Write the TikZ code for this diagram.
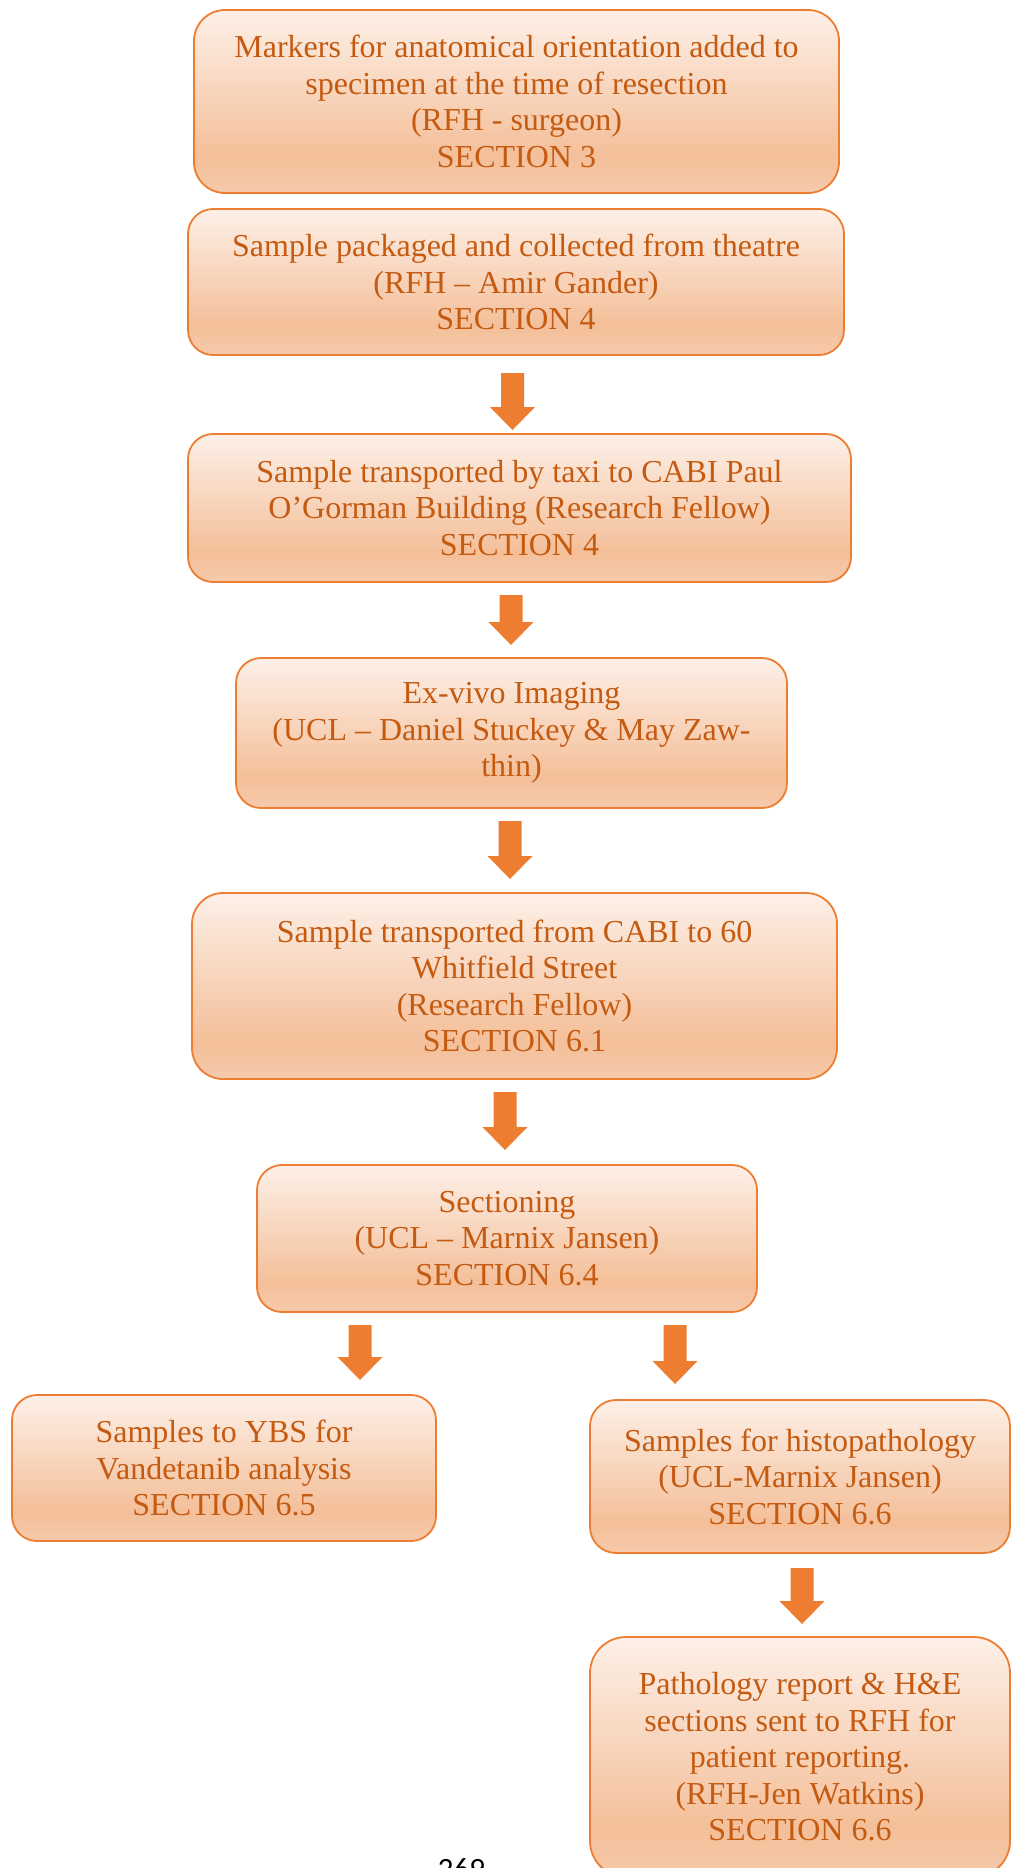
\documentclass[tikz,border=0pt]{standalone}
\usepackage{fontspec}
\setmainfont{Liberation Serif}
\newfontfamily\pagenumfont{Carlito}
\usetikzlibrary{calc}

\definecolor{boxline}{HTML}{ED7D31}
\definecolor{boxtext}{HTML}{C55A11}
\definecolor{shT}{HTML}{FDF0E8}
\definecolor{shM}{HTML}{F4BF99}
\definecolor{shB}{HTML}{F6CAAB}
\definecolor{arrowfill}{HTML}{ED7D31}

% light-to-orange vertical gradient used inside every step box
\pgfdeclareverticalshading{boxshade}{100bp}{%
  color(0bp)=(shB); color(25bp)=(shB); color(35bp)=(shM);
  color(75bp)=(shT); color(100bp)=(shT)}

% block arrow pointing down from coordinate #1 to its tip at coordinate #2
\newcommand\blockarrow[2]{%
  \fill[arrowfill]
    ($(#1)+(-11.5,0)$) -- ($(#1)+(11.5,0)$) -- ($(#2)+(11.5,-23)$)
    -- ($(#2)+(22.5,-23)$) -- (#2) -- ($(#2)+(-22.5,-23)$)
    -- ($(#2)+(-11.5,-23)$) -- cycle;}

\tikzset{
  stepbox/.style={draw=boxline, line width=1.8pt, shading=boxshade,
    text=boxtext, align=center, inner sep=0pt,
    font=\fontsize{32}{36.5}\selectfont},
}

\begin{document}
\begin{tikzpicture}[x=1pt, y=-1pt]
\useasboundingbox (0,0) rectangle (1012,1868);

\node[stepbox, minimum width=645pt, minimum height=183pt, rounded corners=31pt]
  (b1) at (516.5,101.5)
  {Markers for anatomical orientation added to\\
   specimen at the time of resection\\
   (RFH - surgeon)\\
   SECTION 3};

\node[stepbox, minimum width=656pt, minimum height=146pt, rounded corners=25pt]
  (b2) at (516,282)
  {Sample packaged and collected from theatre\\
   (RFH – Amir Gander)\\
   SECTION 4};

\node[stepbox, minimum width=663pt, minimum height=148pt, rounded corners=25pt]
  (b3) at (519.5,508)
  {Sample transported by taxi to CABI Paul\\
   O’Gorman Building (Research Fellow)\\
   SECTION 4};

\node[stepbox, minimum width=551pt, minimum height=150pt, rounded corners=25pt]
  (b4) at (511.5,733)
  {Ex-vivo Imaging\\
   (UCL – Daniel Stuckey \& May Zaw-\\
   thin)};

\node[stepbox, minimum width=645pt, minimum height=186pt, rounded corners=31pt]
  (b5) at (514.5,986)
  {Sample transported from CABI to 60\\
   Whitfield Street\\
   (Research Fellow)\\
   SECTION 6.1};

\node[stepbox, minimum width=500pt, minimum height=147pt, rounded corners=25pt]
  (b6) at (507,1238.5)
  {Sectioning\\
   (UCL – Marnix Jansen)\\
   SECTION 6.4};

\node[stepbox, minimum width=424pt, minimum height=146pt, rounded corners=25pt]
  (b7) at (224,1468)
  {Samples to YBS for\\
   Vandetanib analysis\\
   SECTION 6.5};

\node[stepbox, minimum width=420pt, minimum height=153pt, rounded corners=26pt]
  (b8) at (800,1476.5)
  {Samples for histopathology\\
   (UCL-Marnix Jansen)\\
   SECTION 6.6};

\node[stepbox, minimum width=420pt, minimum height=240pt, rounded corners=36pt]
  (b9) at (800,1757)
  {Pathology report \& H\&E\\
   sections sent to RFH for\\
   patient reporting.\\
   (RFH-Jen Watkins)\\
   SECTION 6.6};

% arrow end points
\coordinate (a1s) at (512.5,373);  \coordinate (a1e) at (512.5,430);
\coordinate (a2s) at (511,595);    \coordinate (a2e) at (511,645);
\coordinate (a3s) at (510,821);    \coordinate (a3e) at (510,879);
\coordinate (a4s) at (505,1092);   \coordinate (a4e) at (505,1150);
\coordinate (a5s) at (360,1325);   \coordinate (a5e) at (360,1380);
\coordinate (a6s) at (675,1325);   \coordinate (a6e) at (675,1384);
\coordinate (a7s) at (802,1568);   \coordinate (a7e) at (802,1624);

\blockarrow{a1s}{a1e}
\blockarrow{a2s}{a2e}
\blockarrow{a3s}{a3e}
\blockarrow{a4s}{a4e}
\blockarrow{a5s}{a5e}
\blockarrow{a6s}{a6e}
\blockarrow{a7s}{a7e}

% page number, cut by the lower page edge
\node[anchor=base, inner sep=0pt, font=\pagenumfont\fontsize{31}{31}\selectfont]
  (pnum) at (461.5,1879) {269};
\end{tikzpicture}
\end{document}
